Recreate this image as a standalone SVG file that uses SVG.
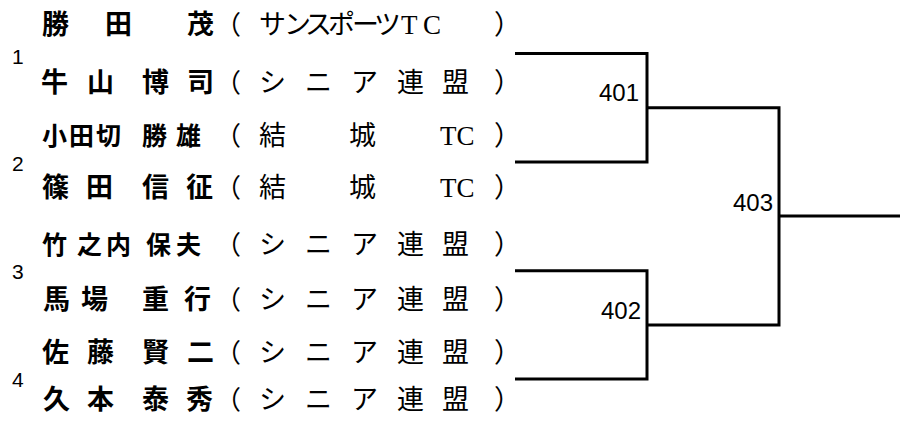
<svg xmlns="http://www.w3.org/2000/svg" width="900" height="421" viewBox="0 0 900 421">
<style>
.seed{font-family:"Liberation Sans",Arial,sans-serif;font-size:21px;fill:#000}
.nm{font-family:"Noto Sans CJK JP",sans-serif;font-size:27px;font-weight:bold;fill:#000}
.nm5{font-family:"Noto Sans CJK JP",sans-serif;font-size:25px;font-weight:bold;fill:#000}
.pr{font-family:"Noto Sans CJK JP",sans-serif;font-size:26px;fill:#000}
.cl{font-family:"Liberation Serif","Noto Sans CJK JP",serif;font-size:27px;fill:#000}
.mn{font-family:"Liberation Sans",Arial,sans-serif;font-size:24px;fill:#000;text-anchor:end}
.ln{fill:none;stroke:#000;stroke-width:3}
</style>
<rect width="900" height="421" fill="#fff"/>
<g id="seeds">
<text class="seed" x="12" y="64">1</text>
<text class="seed" x="12" y="171">2</text>
<text class="seed" x="12" y="279">3</text>
<text class="seed" x="12" y="387">4</text>
</g>
<g id="p1">
<text class="nm" x="42 105 187" y="34">勝田茂</text>
<text class="pr" x="215" y="34">（</text>
<text class="cl" x="259 284 305 328 352 374" y="34">サンスポーツ</text>
<text class="cl" x="401 423" y="34">TC</text>
<text class="cl" x="494" y="34">）</text>
</g>
<g id="p2">
<text class="nm" x="41 87 142 187" y="92">牛山博司</text>
<text class="pr" x="215" y="92">（</text>
<text class="cl" x="259 305 351 397 442" y="92">シニア連盟</text>
<text class="cl" x="494" y="92">）</text>
</g>
<g id="p3">
<text class="nm5" x="42 69 96 142 176" y="145">小田切勝雄</text>
<text class="pr" x="215" y="145">（</text>
<text class="cl" x="259 349" y="145">結城</text>
<text class="cl" x="440" y="145">TC</text>
<text class="cl" x="494" y="145">）</text>
</g>
<g id="p4">
<text class="nm" x="42 86 142 186" y="197">篠田信征</text>
<text class="pr" x="215" y="197">（</text>
<text class="cl" x="259 349" y="197">結城</text>
<text class="cl" x="440" y="197">TC</text>
<text class="cl" x="494" y="197">）</text>
</g>
<g id="p5">
<text class="nm5" x="42 77 106 146 176" y="254">竹之内保夫</text>
<text class="pr" x="215" y="254">（</text>
<text class="cl" x="259 305 351 397 442" y="254">シニア連盟</text>
<text class="cl" x="494" y="254">）</text>
</g>
<g id="p6">
<text class="nm" x="43 81 142 184" y="309">馬場重行</text>
<text class="pr" x="215" y="309">（</text>
<text class="cl" x="259 305 351 397 442" y="309">シニア連盟</text>
<text class="cl" x="494" y="309">）</text>
</g>
<g id="p7">
<text class="nm" x="42 87 142 187" y="362">佐藤賢二</text>
<text class="pr" x="215" y="362">（</text>
<text class="cl" x="259 305 351 397 442" y="362">シニア連盟</text>
<text class="cl" x="494" y="362">）</text>
</g>
<g id="p8">
<text class="nm" x="43 87 142 186" y="409">久本泰秀</text>
<text class="pr" x="215" y="409">（</text>
<text class="cl" x="259 305 351 397 442" y="409">シニア連盟</text>
<text class="cl" x="494" y="409">）</text>
</g>
<g id="connectors">
<path class="ln" d="M515 53.5 H647 V162 H515"/>
<path class="ln" d="M515 270.7 H647 V379 H515"/>
<path class="ln" d="M647 107.7 H779 V325 H647"/>
<path class="ln" d="M779 216 H900"/>
</g>
<g id="m401"><text class="mn" x="639" y="101">401</text></g>
<g id="m402"><text class="mn" x="641" y="319">402</text></g>
<g id="m403"><text class="mn" x="773" y="211">403</text></g>
</svg>
